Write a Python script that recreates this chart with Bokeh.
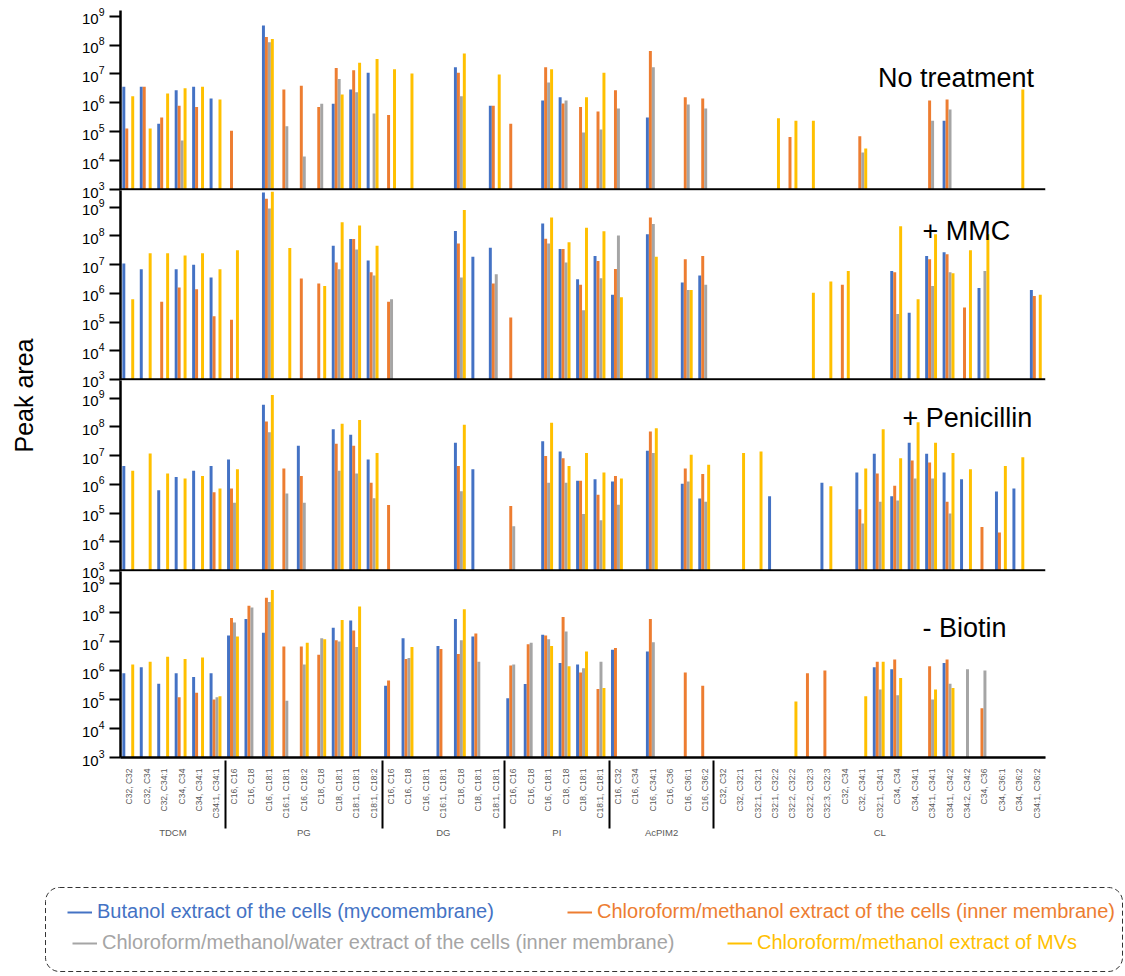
import math
from bokeh.plotting import figure
from bokeh.models import (FactorRange, ColumnDataSource, FixedTicker, Span, Label,
                          Legend, LegendItem, Range1d, BoxAnnotation)
from bokeh.transform import dodge
from bokeh.layouts import column, row
from bokeh.embed import file_html
from bokeh.resources import INLINE

# ---------------- data ----------------
classes = ["TDCM"] * 6 + ["PG"] * 9 + ["DG"] * 7 + ["PI"] * 6 + ["AcPIM2"] * 6 + ["CL"] * 19
species = [
    "C32, C32", "C32, C34", "C32, C34:1", "C34, C34", "C34, C34:1", "C34:1, C34:1",
    "C16, C16", "C16, C18", "C16, C18:1", "C16:1, C18:1", "C16, C18:2", "C18, C18", "C18, C18:1", "C18:1, C18:1", "C18:1, C18:2",
    "C16, C16", "C16, C18", "C16, C18:1", "C16:1, C18:1", "C18, C18", "C18, C18:1", "C18:1, C18:1",
    "C16, C16", "C16, C18", "C16, C18:1", "C18, C18", "C18, C18:1", "C18:1, C18:1",
    "C16, C32", "C16, C34", "C16, C34:1", "C16, C36", "C16, C36:1", "C16, C36:2",
    "C32, C32", "C32, C32:1", "C32:1, C32:1", "C32:1, C32:2", "C32:2, C32:2", "C32:2, C32:3", "C32:3, C32:3",
    "C32, C34", "C32, C34:1", "C32:1, C34:1", "C34, C34", "C34, C34:1", "C34:1, C34:1", "C34:1, C34:2",
    "C34:2, C34:2", "C34, C36", "C34, C36:1", "C34, C36:2", "C34:1, C36:2",
]

series_names = [
    "Butanol extract of the cells (mycomembrane)",
    "Chloroform/methanol extract of the cells (inner membrane)",
    "Chloroform/methanol/water extract of the cells (inner membrane)",
    "Chloroform/methanol extract of MVs",
]
panel_titles = ["No treatment", "+ MMC", "+ Penicillin", "- Biotin"]

# sparse values: {category index: peak area}
no_treatment_butanol = {0: 3.6e6, 1: 3.6e6, 2: 1.9e5, 3: 2.7e6, 4: 3.6e6, 5: 1.4e6, 8: 4.7e8, 12: 9.2e5, 13: 2.9e6, 14: 1.1e7,
                        19: 1.7e7, 21: 7.9e5, 24: 1.2e6, 25: 1.55e6, 30: 3.1e5, 47: 2.4e5}
no_treatment_chloro = {0: 1.3e5, 1: 3.6e6, 2: 3.1e5, 3: 7.9e5, 4: 7.1e5, 6: 1.07e5, 8: 1.9e8, 9: 2.9e6, 10: 3.9e6, 11: 7.1e5,
                       12: 1.6e7, 13: 1.35e7, 15: 3.8e5, 19: 1.1e7, 21: 7.9e5, 22: 1.9e5, 24: 1.7e7, 25: 9.5e5, 26: 7.1e5,
                       27: 5e5, 28: 2.7e6, 30: 6.2e7, 32: 1.55e6, 33: 1.4e6, 38: 6.5e4, 42: 7e4, 46: 1.2e6, 47: 1.3e6}
no_treatment_water = {3: 5e4, 8: 1.25e8, 9: 1.55e5, 10: 1.4e4, 11: 9.2e5, 12: 6.6e6, 13: 2.3e6, 14: 4.3e5, 19: 1.7e6,
                      24: 5e6, 25: 1.2e6, 26: 9.3e4, 27: 1.2e5, 28: 6.3e5, 30: 1.7e7, 32: 8.7e5, 33: 6.3e5, 42: 1.9e4,
                      46: 2.4e5, 47: 5.9e5}
no_treatment_mvs = {0: 1.7e6, 1: 1.3e5, 2: 2.1e6, 3: 3.2e6, 4: 3.6e6, 5: 1.3e6, 8: 1.6e8, 12: 1.95e6, 13: 2.45e7, 14: 3.3e7,
                    15: 1.45e7, 16: 1.03e7, 19: 5.1e7, 21: 9.5e6, 24: 1.45e7, 26: 1.55e6, 27: 1.1e7, 37: 2.9e5, 38: 2.4e5,
                    39: 2.4e5, 42: 2.6e4, 51: 2.9e6}

mmc_butanol = {0: 1.1e7, 1: 6.9e6, 3: 6.9e6, 4: 1e7, 5: 3.6e6, 8: 3.3e9, 12: 4.6e7, 13: 7.9e7, 14: 1.4e7, 19: 1.5e8,
               20: 1.9e7, 21: 3.9e7, 24: 2.7e8, 25: 3.5e7, 26: 3.1e6, 27: 2e7, 28: 8.9e5, 30: 1.15e8, 32: 2.4e6,
               33: 4.2e6, 44: 6e6, 45: 2.1e5, 46: 2e7, 47: 2.7e7, 49: 1.55e6, 52: 1.3e6}
mmc_chloro = {2: 5.1e5, 3: 1.6e6, 4: 1.4e6, 5: 1.6e5, 6: 1.2e5, 8: 2e9, 10: 3.3e6, 11: 2.2e6, 12: 1.2e7, 13: 7.9e7,
              14: 5.4e6, 15: 5.1e5, 19: 5.5e7, 21: 2.2e6, 22: 1.45e5, 24: 8e7, 25: 3.5e7, 26: 2e6, 27: 1.35e7,
              28: 7.1e6, 30: 4.4e8, 32: 1.55e7, 33: 2e7, 41: 2e6, 44: 5.4e6, 46: 1.55e7, 47: 2.3e7, 48: 3.2e5, 52: 8.1e5}
mmc_water = {8: 9e8, 12: 6.9e6, 13: 3.4e7, 14: 4.2e6, 15: 6.2e5, 19: 3.6e6, 21: 4.6e6, 24: 5.5e7, 25: 1.2e7, 26: 2.6e5,
             27: 3.4e6, 28: 1.05e8, 30: 2.6e8, 32: 1.3e6, 33: 2e6, 44: 1.9e5, 46: 1.8e6, 47: 5.4e6, 49: 6e6}
mmc_mvs = {0: 6.2e5, 1: 2.5e7, 2: 2.5e7, 3: 2.1e7, 4: 2.5e7, 5: 6.9e6, 6: 3.2e7, 8: 3.5e9, 9: 3.8e7, 11: 1.8e6, 12: 3e8,
           13: 2.3e8, 14: 4.6e7, 19: 8.1e8, 24: 4.4e8, 25: 6e7, 26: 1.95e8, 27: 1.45e8, 28: 7.4e5, 30: 1.9e7, 32: 1.3e6,
           39: 1.05e6, 40: 2.6e6, 41: 6e6, 44: 2.2e8, 45: 6.2e5, 46: 1.15e8, 47: 5e6, 48: 3.2e7, 49: 1.15e8, 52: 9e5}

pen_butanol = {0: 4.4e6, 2: 6.2e5, 3: 1.8e6, 4: 3e6, 5: 4.4e6, 6: 7.4e6, 8: 5.9e8, 10: 2.2e7, 12: 8.3e7, 13: 5.4e7,
               14: 7.4e6, 19: 2.8e7, 20: 3.4e6, 24: 3.2e7, 25: 1.4e7, 26: 1.35e6, 27: 1.5e6, 28: 1.25e6, 30: 1.5e7,
               32: 1.05e6, 33: 3.2e5, 37: 3.9e5, 40: 1.15e6, 42: 2.6e6, 43: 1.17e7, 44: 3.9e5, 45: 2.8e7, 46: 1.17e7,
               47: 2.6e6, 48: 1.5e6, 50: 5.6e5, 51: 7.2e5}
pen_chloro = {5: 5.3e5, 6: 7.2e5, 8: 1.55e8, 9: 3.6e6, 10: 1.95e6, 12: 2.6e7, 13: 2.2e7, 14: 1.15e6, 15: 1.9e5, 19: 4.4e6,
              22: 1.75e5, 24: 9.8e6, 25: 8.1e6, 26: 1.35e6, 27: 4.4e5, 28: 1.95e6, 30: 6.9e7, 32: 3.6e6, 33: 2.3e6,
              42: 1.35e5, 43: 2.4e6, 44: 8.9e5, 45: 6.8e6, 46: 5.8e6, 47: 2.5e5, 49: 3.3e4, 50: 2.1e4}
pen_water = {6: 2.3e5, 8: 6.5e7, 9: 4.8e5, 10: 2.3e5, 12: 3e6, 13: 2.4e6, 14: 3.3e5, 19: 5.8e5, 22: 3.5e4, 24: 1.15e6,
             25: 1.15e6, 26: 9.3e4, 27: 5.6e4, 28: 1.95e5, 30: 1.25e7, 32: 1.25e6, 33: 2.5e5, 42: 4.3e4, 43: 2.5e5,
             44: 2.75e5, 45: 1.6e6, 46: 1.6e6, 47: 9.6e4}
pen_mvs = {0: 3e6, 1: 1.2e7, 2: 2.4e6, 3: 1.6e6, 4: 1.95e6, 5: 7.2e5, 6: 3.4e6, 8: 1.3e9, 12: 1.3e8, 13: 1.75e8, 14: 1.25e7,
           19: 1.2e8, 24: 1.4e8, 25: 4.4e6, 26: 1.25e7, 27: 2.6e6, 28: 1.6e6, 30: 9.1e7, 32: 1.07e7, 33: 4.8e6,
           35: 1.25e7, 36: 1.4e7, 40: 8.7e5, 42: 3.6e6, 43: 8.3e7, 44: 8.1e6, 45: 1.45e8, 46: 2.8e7, 47: 1.25e7,
           48: 3.4e6, 50: 4.4e6, 51: 8.9e6}

biotin_butanol = {0: 8e5, 1: 1.3e6, 2: 3.5e5, 3: 8e5, 4: 6e5, 5: 8e5, 6: 1.6e7, 7: 6e7, 8: 2e7, 12: 3e7, 13: 5.3e7,
                  15: 3e5, 16: 1.3e7, 18: 7e6, 19: 6e7, 20: 1.5e7, 22: 1.1e5, 23: 3.4e5, 24: 1.7e7, 25: 1.8e6,
                  26: 1.6e6, 28: 5.2e6, 30: 4.5e6, 43: 1.3e6, 44: 1.1e6, 47: 1.8e6}
biotin_chloro = {3: 1.2e5, 4: 1.7e5, 5: 1e5, 6: 6.5e7, 7: 1.7e8, 8: 3.2e8, 9: 6.7e6, 10: 6.7e6, 11: 3.5e6, 12: 1.1e7,
                 13: 2.4e7, 15: 4.5e5, 16: 2.5e6, 18: 5.5e6, 19: 3.7e6, 20: 1.9e7, 22: 1.5e6, 23: 8e6, 24: 1.6e7,
                 25: 7e7, 26: 8.5e5, 27: 2.3e5, 28: 6e6, 30: 6e7, 32: 8.5e5, 33: 3e5, 39: 8e5, 40: 1e6, 43: 2e6,
                 44: 2.4e6, 46: 1.4e6, 47: 2.4e6, 49: 5e4}
biotin_water = {5: 1.2e5, 6: 4.5e7, 7: 1.5e8, 8: 2.3e8, 9: 9e4, 10: 1.6e6, 11: 1.3e7, 12: 1e7, 13: 6.5e6, 16: 2.7e6,
                19: 1.1e7, 20: 2e6, 22: 1.6e6, 23: 9e6, 24: 1.2e7, 25: 2.2e7, 26: 1.2e6, 27: 2e6, 30: 9.5e6,
                43: 2.2e5, 44: 1.4e5, 46: 1e5, 47: 3.5e5, 48: 1.1e6, 49: 1e6}
biotin_mvs = {0: 1.6e6, 1: 2e6, 2: 3e6, 3: 2.5e6, 4: 2.8e6, 5: 1.3e5, 6: 1.5e7, 8: 6e8, 10: 9e6, 11: 1.2e7, 12: 5.5e7,
              13: 1.6e8, 16: 6.5e6, 19: 1.3e8, 24: 7e6, 25: 1.4e6, 26: 4.5e6, 27: 2.5e5, 38: 8.5e4, 42: 1.3e5,
              43: 2e6, 44: 5.5e5, 46: 2.2e5, 47: 2.5e5}

panels = [
    [no_treatment_butanol, no_treatment_chloro, no_treatment_water, no_treatment_mvs],
    [mmc_butanol, mmc_chloro, mmc_water, mmc_mvs],
    [pen_butanol, pen_chloro, pen_water, pen_mvs],
    [biotin_butanol, biotin_chloro, biotin_water, biotin_mvs],
]

# ---------------- styling ----------------
colors = ["#4472C4", "#ED7D31", "#A5A5A5", "#FFC000"]
offsets = [-0.31, -0.14, 0.03, 0.20]
FONT = "Liberation Sans"

factors = list(zip(classes, species))
xr = FactorRange(*factors, group_padding=0, factor_padding=0, subgroup_padding=0, range_padding=0)

# group boundaries (synthetic x) for the separator lines under the axis
bounds = [0] + [i for i in range(1, len(classes)) if classes[i] != classes[i - 1]] + [len(classes)]

# panel frames touch each other; the figures' (transparent) borders overlap via negative margins
frame_h = [180, 190, 191, 186]
y_start = [10 ** (3 - 1 / 28.9), 10 ** (3 - 1 / 28.7), 10 ** (3 - 1 / 28.7), 1e3]
y_end = [10 ** 9.194, 10 ** 9.585, 10 ** 9.62, 10 ** 9.414]
border_top = [10, 14, 14, 14]
border_bottom = [12, 12, 12, 110]
margins = [(0, 0, 0, 0), (-26, 0, 0, 0), (-26, 0, 0, 0), (-26, 0, 0, 0)]
title_pos = [(43.4, 6.85), (45.95, 8.19), (44.8, 8.30), (45.95, 7.48)]

figs = []
nan = float("nan")
for k in range(4):
    p = figure(x_range=xr, y_axis_type="log", y_range=Range1d(y_start[k], y_end[k]),
               frame_width=925, frame_height=frame_h[k], output_backend="svg", toolbar_location=None,
               min_border_left=62, min_border_right=10, min_border_top=border_top[k],
               min_border_bottom=border_bottom[k], outline_line_color=None, background_fill_color="white",
               border_fill_alpha=0, margin=margins[k])
    p.xgrid.visible = False
    p.ygrid.visible = False
    data = {"x": factors}
    for s in range(4):
        d = panels[k][s]
        data[f"s{s}"] = [d.get(i, nan) for i in range(len(factors))]
    src = ColumnDataSource(data)
    for s in range(4):
        p.vbar(x=dodge("x", offsets[s], range=xr), top=f"s{s}", bottom=1e3, width=0.17,
               source=src, fill_color=colors[s], line_color=None)
    ya = p.yaxis[0]
    ya.ticker = FixedTicker(ticks=[1e3, 1e4, 1e5, 1e6, 1e7, 1e8, 1e9], minor_ticks=[])
    ya.axis_line_width = 2.5
    ya.axis_line_color = "black"
    ya.major_tick_out = 11
    ya.major_tick_in = 0
    ya.major_tick_line_width = 2
    ya.minor_tick_line_color = None
    ya.major_label_text_font = FONT
    ya.major_label_text_font_size = "15px"
    ya.major_label_text_color = "black"
    ya.major_label_standoff = 5
    if k < 3:
        p.xaxis.visible = False
        p.add_layout(Span(location=1e3, dimension="width", line_color="black", line_width=2.5))
    else:
        xa = p.xaxis[0]
        xa.axis_line_width = 2.5
        xa.axis_line_color = "black"
        xa.major_tick_line_color = None
        xa.minor_tick_line_color = None
        xa.major_label_orientation = math.pi / 2
        xa.major_label_text_font = FONT
        xa.major_label_text_font_size = "8.5px"
        xa.major_label_text_color = "#595959"
        xa.major_label_standoff = 5
        xa.group_text_font = FONT
        xa.group_text_font_size = "9.5px"
        xa.group_text_color = "#595959"
        xa.group_text_font_style = "normal"
        xa.separator_line_color = "black"
        xa.separator_line_width = 2
        # separator lines reaching below the group labels, including both ends
        for b in bounds:
            p.add_layout(BoxAnnotation(left=b - 0.06, right=b + 0.06, bottom=10 ** 0.38, top=1e3,
                                       fill_color="black", fill_alpha=1, line_color=None))
    tx, ty = title_pos[k]
    p.add_layout(Label(x=tx, y=10 ** ty, text=panel_titles[k], text_font=FONT, text_font_size="27px",
                       text_color="black", text_baseline="alphabetic", text_align="left"))
    figs.append(p)

# y-axis title
total_h = 867
lab = figure(width=58, height=total_h, x_range=Range1d(0, 1), y_range=Range1d(0, 1), min_border=0,
             output_backend="svg", toolbar_location=None, outline_line_color=None)
lab.axis.visible = False
lab.grid.visible = False
lab.add_layout(Label(x=23 / 58, y=1 - 395 / total_h, text="Peak area", angle=math.pi / 2, text_align="center",
                     text_baseline="middle", text_font=FONT, text_font_size="25px", text_color="black"))

# legend panel
LW, LH = 1125, 107
lg = figure(width=LW, height=LH, x_range=Range1d(0, LW), y_range=Range1d(0, LH), min_border=0,
            output_backend="svg", toolbar_location=None, outline_line_color=None)
lg.axis.visible = False
lg.grid.visible = False
lg.quad(left=[45], right=[1122], bottom=[3], top=[87], fill_color=None, line_color="#333333",
        line_width=1, line_dash="5 3", border_radius=14)
legend_locs = [(67, 51), (567, 51), (72, 20), (727, 20)]
for s in range(4):
    r = lg.line(x=[-20, -10], y=[-20, -20], line_color=colors[s], line_width=2)
    leg = Legend(items=[LegendItem(label=series_names[s], renderers=[r])], location=legend_locs[s],
                 orientation="horizontal", border_line_color=None, background_fill_alpha=0, padding=0, margin=0,
                 glyph_width=25, glyph_height=20, label_height=20, label_standoff=5, label_text_color=colors[s],
                 label_text_font=FONT, label_text_font_size="20px")
    lg.add_layout(leg)

layout = column(row(lab, column(*figs, spacing=0), spacing=0), lg, spacing=0)
open("out.html", "w").write(file_html(layout, INLINE))
